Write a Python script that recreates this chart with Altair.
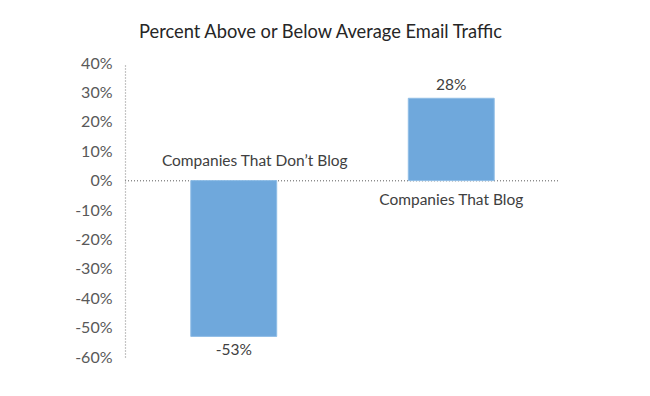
import altair as alt
import pandas as pd

categories = ["Companies That Don\u2019t Blog", "Companies That Blog"]
values = [-0.53, 0.28]
value_labels = ["-53%", "28%"]
title_text = "Percent Above or Below Average Email Traffic"
y_ticks = [0.4, 0.3, 0.2, 0.1, 0.0, -0.1, -0.2, -0.3, -0.4, -0.5, -0.6]

df = pd.DataFrame({"cat": categories, "val": values, "lab": value_labels})

FONT = "Lato"
x = alt.X("cat:N", sort=categories, axis=None,
          scale=alt.Scale(paddingInner=0.605, paddingOuter=0.3025))
yscale = alt.Scale(domain=[-0.6, 0.4], nice=False, zero=False)
yaxis = alt.Axis(values=y_ticks, labelExpr="round(datum.value*100) + '%'",
                 title=None, grid=False, labelOverlap=False,
                 ticks=False, labelPadding=13, labelFontSize=16,
                 labelFont=FONT, labelColor="#595959",
                 domainColor="#8c8c8c", domainDash=[1, 2], domainWidth=1.2)
y = alt.Y("val:Q", scale=yscale, axis=yaxis)
y0 = alt.Y(datum=0, type="quantitative", scale=yscale, axis=yaxis)

base = alt.Chart(df)

bars = base.mark_bar(color="#6fa8dc", stroke="#8fbde6", strokeWidth=1).encode(x=x, y=y)

zero = base.mark_rule(color="#8c8c8c", strokeDash=[1, 2], strokeWidth=1.2).encode(
    x=alt.value(0), x2=alt.value(435), y=y0
)

TXT = dict(font=FONT, fontSize=15.5, color="#404040")
neg_val = base.transform_filter(alt.datum.val < 0).mark_text(
    baseline="top", dy=7, **TXT
).encode(x=x, y=y, text="lab:N")
pos_val = base.transform_filter(alt.datum.val >= 0).mark_text(
    baseline="bottom", dy=-5, **TXT
).encode(x=x, y=y, text="lab:N")

neg_cat = base.transform_filter(alt.datum.val < 0).mark_text(
    baseline="middle", dy=-20, dx=21, **TXT
).encode(x=x, y=y0, text="cat:N")
pos_cat = base.transform_filter(alt.datum.val >= 0).mark_text(
    baseline="middle", dy=19, **TXT
).encode(x=x, y=y0, text="cat:N")

chart = alt.layer(zero, bars, neg_val, pos_val, neg_cat, pos_cat).properties(
    width=435, height=294,
    background="white",
    autosize=alt.AutoSizeParams(type="none"),
    padding={"left": 117, "top": 55, "right": 80, "bottom": 30},
    title=alt.TitleParams(title_text, font=FONT, fontSize=18.3, fontWeight="normal",
                          color="#262626", anchor="middle", dx=-22, offset=13),
).configure_view(stroke=None)

chart.save("out.html", embed_options={"renderer": "svg", "actions": False})
